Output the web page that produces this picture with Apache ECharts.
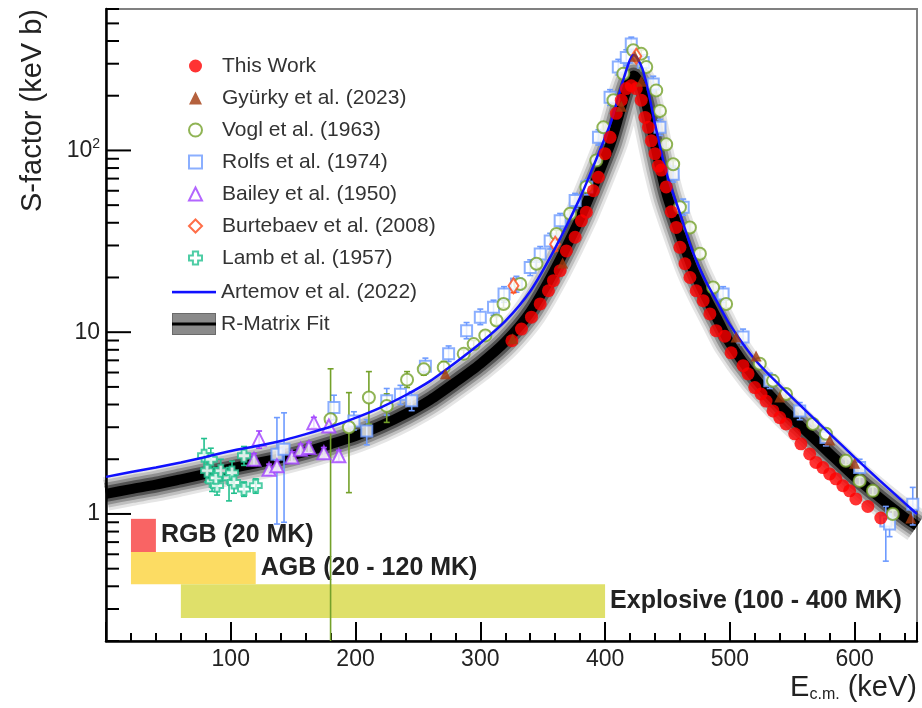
<!DOCTYPE html>
<html><head><meta charset="utf-8">
<script src="https://cdn.jsdelivr.net/npm/echarts@6/dist/echarts.min.js"></script>
<style>html,body{margin:0;padding:0;background:#fff}#c{width:922px;height:708px}</style>
</head><body><div id="c"></div>
<script>
// ---- Fit curves (energy grid, keV) ----
const E_FIT = [0,20,40,60,80,100,120,140,160,180,200,220,240,260,280,300,320,340,360,380,390,400,405,410,415,420,423,426,430,435,440,445,450,460,470,480,490,500,520,540,560,580,600,620,640,650];
const S_ARTEMOV = [1.60,1.70,1.80,1.92,2.06,2.22,2.36,2.52,2.75,3.02,3.38,3.85,4.5,5.4,6.8,8.7,11.5,16.8,29,55,80,118,145,190,250,315,335,320,280,205,140,98,72,45,28,19.5,14.6,11.0,7.08,5.1,3.75,2.77,2.05,1.53,1.15,1.0];
const S_RMATRIX = [1.29,1.37,1.45,1.55,1.66,1.78,1.9,2.03,2.2,2.42,2.68,3.05,3.55,4.25,5.3,6.7,8.85,12.9,22.3,42.4,61.6,90.9,112,146,193,243,258,246,216,158,108,75.5,55.4,34.7,22.5,16.0,11.8,8.7,5.6,3.95,2.9,2.15,1.6,1.23,0.96,0.86];

// ---- This work [E, S] ----
const THIS_WORK = [[325.3,8.97],[333,10.4],[341,12.1],[348,14.3],[354.6,16.9],[358.6,19.2],[364,21.8],[369,28.0],[376,33.3],[381,41],[385,45.7],[390.6,60],[394.6,71.2],[400,96],[404,118],[409,160],[413,189],[417,219],[421,227],[425,219],[429,189],[432,152],[434.7,134],[437,113],[440,96],[442.7,82],[445,78],[449,63],[453,46],[457,37.7],[460,29.3],[464,23.8],[468,20],[473,16.9],[478.6,14.9],[484,12.6],[489,10.2],[496,9.5],[501,7.7],[510.6,6.54],[514.6,5.9],[520,4.96],[525,4.57],[529,4.18],[534.6,3.69],[540,3.39],[545,3.13],[552,2.76],[557,2.43],[564,2.14],[569,1.92],[574.6,1.8],[580,1.66],[585,1.56],[590.6,1.43],[596,1.34],[601,1.21],[610.6,1.1],[621,0.95]];
// ---- Gyurky 2023 [E, S] ----
const GYURKY = [[272,5.9],[326,9.2],[366,24],[413,175],[424,330],[429,240],[505,9.4],[521,7.4],[540,4.4],[580,2.55],[600,1.9],[645,0.95]];
// ---- Vogl 1963 [E, S, low, high] ----
const VOGL = [[180,3.32,0.1,6.29],[194.7,3.0,1.31,4.65],[210.7,4.37,3.12,6.07],[225,3.93,3.19,4.58],[241.3,5.47,4.96,6.07],[254.7,6.26,5.8,6.8],[270.7,6.4,6.0,6.9],[286.7,7.6,7.2,8.0],[294.7,8.6,8.2,9.0],[304,9.6,9.1,10.1],[313,11.6,11.0,12.2],[318.6,14.3,13.6,15.0],[332,18.4,17.5,19.3],[345,23.8,22.6,25],[361,34.7,33,36.4],[372,44.8,42.6,47],[385,63,60,66],[393,88,84,92],[398.6,134,127,141],[406.7,189,180,198],[414.6,264,251,277],[422.6,356,338,374],[429,340,323,357],[433,288,274,302],[441,214,203,225],[444,165,157,173],[449,108,103,113],[454.6,84,80,88],[460,48.7,46.3,51.1],[468,37.7,35.8,39.6],[476,27,25.7,28.4],[486.6,17.6,16.7,18.5],[497,14.3,13.6,15],[524,6.7,6.4,7.0],[534.6,5.4,5.1,5.7],[545,4.57,4.34,4.8],[566.6,3.13,2.97,3.29],[577,2.76,2.62,2.9],[593,1.96,1.86,2.06],[604,1.52,1.44,1.6],[614.6,1.34,1.27,1.41],[630.6,1.0,0.95,1.05]];
// ---- Rolfs 1974 [E, S, low, high] ----
const ROLFS = [[137,2.13,0.88,3.39],[142.7,2.27,0.9,3.6],[182.7,3.85,3.3,4.5],[198.7,3.25,2.9,3.65],[209,2.86,2.4,3.3],[225,4.2,3.5,4.9],[236,4.56,4.0,5.1],[245,4.2,3.7,4.7],[256,6.5,5.9,7.2],[274.6,7.6,6.9,8.4],[289,10.2,9.2,11.3],[300,12.1,11,13.4],[310.6,13.7,12.4,15],[319,16.2,14.6,17.8],[329,18.4,16.6,20.3],[340,22.7,20.5,25],[348,26.9,24.3,29.6],[356,31.8,28.7,35],[364,41,37,45],[376,53,48,58],[385.4,63,57,69],[394.7,118,107,130],[404,196,177,216],[410.6,288,260,317],[417,325,293,358],[421,385,347,420],[430.6,305,275,336],[438.6,232,210,256],[444,134,121,148],[454.6,74,67,82],[462.6,48.7,44,54],[494.6,16.2,14.6,17.8],[510.6,9.4,8.5,10.4],[532,5.4,4.9,5.95],[556,3.69,3.3,4.1],[577,2.63,2.37,2.9],[604,1.8,1.6,2.0],[625,0.915,0.55,1.1],[628,0.88,0.75,1.0],[646.6,1.13,0.87,1.4]];
// ---- Bailey 1950 [E, S, low, high] ----
const BAILEY = [[118.6,2.0,1.85,2.15],[122.7,2.58,2.3,2.86],[130.7,1.76,1.64,1.88],[137,1.84,1.72,1.97],[149,2.06,1.93,2.2],[156,2.27,2.12,2.42],[162.6,2.32,2.17,2.48],[166.6,3.18,2.97,3.4],[174.6,2.17,2.03,2.32],[178.6,3.05,2.85,3.26],[186.6,2.09,1.95,2.24]];
// ---- Burtebaev 2008 [E, S, low, high] ----
const BURTEBAEV = [[326.6,18,16.5,19.6],[360,30.5,28,33],[425,330,310,350]];
// ---- Lamb 1957 [E, S, low, high] ----
const LAMB = [[78.6,2.09,1.73,2.6],[84,2.0,1.73,2.3],[81,1.73,1.5,1.95],[85,1.52,1.33,1.73],[89,1.43,1.27,1.73],[88,1.58,1.4,1.8],[92,1.73,1.52,2.0],[98.6,1.58,1.18,1.8],[101,1.69,1.5,1.95],[102.6,1.49,1.3,1.7],[110.6,2.09,1.85,2.35],[110.6,1.37,1.25,1.5],[120,1.43,1.3,1.56]];

// ---- Temperature regions ----
const REGION_NAMES = ['RGB (20 MK)','AGB (20 - 120 MK)','Explosive (100 - 400 MK)'];
const REGION_E_START = [20,20,60];
const REGION_E_END = [40,120,400];
const REGION_S_LOW = [0.617,0.41,0.268];
const REGION_S_HIGH = [0.94,0.617,0.41];
const REGION_COLORS = ['#f96464','#fcdc63','#dfe06a'];

// ---- Axis ticks ----
const Y_TICKS = [0.2,0.3,0.4,0.5,0.6,0.7,0.8,0.9,1,2,3,4,5,6,7,8,9,10,20,30,40,50,60,70,80,90,100,200,300,400,500,600];
const X_MIN = 0, X_MAX = 650, Y_MIN = 0.2, Y_MAX = 600;

const FONT = 'Liberation Sans, Arial, Helvetica, sans-serif';
const chart = echarts.init(document.getElementById('c'));

const fitPairs = (arr) => E_FIT.map((e,i)=>[e, arr[i]]);

function errSeries(name, data, color){
  return {
    type:'custom', name: name+'_err', data: data, z: 3, clip: true, silent: true,
    encode:{x:0,y:1},
    renderItem: function(params, api){
      const x = api.value(0);
      const lo = api.coord([x, api.value(2)]);
      const hi = api.coord([x, api.value(3)]);
      const c = 3;
      return {type:'group', children:[
        {type:'line', shape:{x1:lo[0],y1:lo[1],x2:hi[0],y2:hi[1]}, style:{stroke:color,lineWidth:1.6}},
        {type:'line', shape:{x1:hi[0]-c,y1:hi[1],x2:hi[0]+c,y2:hi[1]}, style:{stroke:color,lineWidth:1.6}},
        {type:'line', shape:{x1:lo[0]-c,y1:lo[1],x2:lo[0]+c,y2:lo[1]}, style:{stroke:color,lineWidth:1.6}}
      ]};
    }
  };
}
function scat(name, data, symbol, size, color, hollow, z){
  return {
    type:'scatter', name:name, data:data.map(d=>[d[0],d[1]]), symbol:symbol, symbolSize:size, z:z||4,
    itemStyle: hollow ? {color:color, borderColor:color, borderWidth:2} : {color:color}
  };
}

const bandLayers = [
  {w:34, c:'rgba(0,0,0,0.10)'},
  {w:28, c:'rgba(0,0,0,0.16)'},
  {w:22, c:'rgba(0,0,0,0.25)'},
  {w:16, c:'rgba(0,0,0,0.42)'},
  {w:10, c:'#000'}
];
const bandSeries = bandLayers.map((b,i)=>({
  type:'line', name: i===2 ? 'R-Matrix Fit' : 'band'+i, data: fitPairs(S_RMATRIX), showSymbol:false, symbol:'none', smooth:0.25,
  lineStyle:{width:b.w, color:b.c, cap:'butt', join:'round'}, itemStyle:{color:'#777'}, z:2, silent:true, clip:true
}));

const crossPath = 'path://M3,0 L7,0 L7,3 L10,3 L10,7 L7,7 L7,10 L3,10 L3,7 L0,7 L0,3 L3,3 Z';
const svgIcon = (body) => 'image://data:image/svg+xml;utf8,' + encodeURIComponent("<svg xmlns='http://www.w3.org/2000/svg' width='44' height='22'>" + body + "</svg>");
const bandIcon = svgIcon("<rect x='0.5' y='0.5' width='43' height='21' fill='#8a8a8a' stroke='#6a6a6a' stroke-width='1'/><rect y='9.5' width='44' height='3' fill='#000'/>");
const lineIcon = svgIcon("<rect y='9.8' width='44' height='2.6' fill='#1010ff'/>");

const regionData = REGION_NAMES.map((n,i)=>[
  {name:n, xAxis:REGION_E_START[i], yAxis:REGION_S_LOW[i], itemStyle:{color:REGION_COLORS[i]}},
  {xAxis:REGION_E_END[i], yAxis:REGION_S_HIGH[i]}
]);

const legendText = {fontSize:21, color:'#333', fontFamily:FONT, lineHeight:22};

const option = {
  animation:false,
  backgroundColor:'#fff',
  grid:{left:106, right:5, top:9, bottom:67, show:true, borderColor:'#808080', borderWidth:2, backgroundColor:'transparent'},
  xAxis:{
    type:'value', min:X_MIN, max:X_MAX, interval:100,
    axisLine:{lineStyle:{color:'#000', width:2.5}},
    axisTick:{inside:true, length:19, lineStyle:{color:'#000', width:2}},
    minorTick:{show:true, splitNumber:5, length:8, lineStyle:{color:'#000', width:2}},
    splitLine:{show:false}, minorSplitLine:{show:false},
    axisLabel:{fontSize:23, color:'#222', fontFamily:FONT, margin:7,
      formatter:(v)=> (v>0 && v%100===0) ? String(v) : ''}
  },
  yAxis:{
    type:'log', logBase:10, min:Y_MIN, max:Y_MAX,
    axisLine:{lineStyle:{color:'#000', width:2.5}},
    axisTick:{show:false}, splitLine:{show:false}, minorTick:{show:false},
    axisLabel:{fontSize:23, color:'#222', fontFamily:FONT, margin:6,
      formatter:(v)=>{
        const l = Math.log10(v); const r = Math.round(l);
        if (Math.abs(l-r)>1e-6) return '';
        if (r===0) return '{a|1}';
        if (r===1) return '{a|10}';
        if (r>=2) return '{a|10}{s|'+r+'}';
        return '';
      },
      rich:{a:{fontSize:23, fontFamily:FONT, color:'#222'}, s:{fontSize:14, fontFamily:FONT, color:'#222', padding:[0,0,12,0]}}
    }
  },
  legend:[
    {
      orient:'vertical', left:183, top:50, itemWidth:13, itemHeight:13, itemGap:10,
      textStyle:Object.assign({padding:[0,0,0,15]}, legendText),
      selectedMode:false,
      data:['This Work','Gyürky et al. (2023)','Vogl et al. (1963)','Rolfs et al. (1974)','Bailey et al. (1950)','Burtebaev et al. (2008)','Lamb et al. (1957)']
    },
    {
      orient:'vertical', left:167, top:276, itemWidth:44, itemHeight:22, itemGap:10,
      textStyle:Object.assign({padding:[0,0,0,0]}, legendText),
      selectedMode:false,
      data:[{name:'Artemov et al. (2022)', icon:lineIcon},{name:'R-Matrix Fit', icon:bandIcon}]
    }
  ],
  graphic:[
    {type:'text', x:33, y:9, rotation:Math.PI/2, style:{text:'S-factor (keV b)', fontSize:29, fontFamily:FONT, fill:'#222', align:'right', verticalAlign:'middle'}},
    {type:'text', x:917, y:688, style:{text:'{a|E}{b|c.m.}{a| (keV)}', align:'right', verticalAlign:'middle',
      rich:{a:{fontSize:29, fontFamily:FONT, fill:'#222'}, b:{fontSize:16, fontFamily:FONT, fill:'#222', padding:[13,0,0,0]}}}}
  ],
  series:[
    {type:'line', name:'regions', data:[], z:1, silent:true,
      markArea:{silent:true, data:regionData,
        label:{show:true, position:'right', distance:5, fontSize:25, fontWeight:'bold', color:'#222', fontFamily:FONT}}},
    ...bandSeries,
    errSeries('Rolfs', ROLFS, '#6e9bff'),
    errSeries('Vogl', VOGL, '#74a12a'),
    errSeries('Lamb', LAMB, '#22c08e'),
    errSeries('Bailey', BAILEY, '#a040ff'),
    errSeries('Burtebaev', BURTEBAEV, '#ff4a1a'),
    scat('Rolfs et al. (1974)', ROLFS, 'emptyRect', 11, '#6e9bff', true),
    scat('Vogl et al. (1963)', VOGL, 'emptyCircle', 12, '#74a12a', true),
    scat('Bailey et al. (1950)', BAILEY, 'emptyTriangle', 13, '#a040ff', true),
    scat('Burtebaev et al. (2008)', BURTEBAEV, 'emptyDiamond', [10,15], '#ff4a1a', true),
    {type:'scatter', name:'Lamb et al. (1957)', data:LAMB.map(d=>[d[0],d[1]]), symbol:crossPath, symbolSize:12, z:4,
      itemStyle:{color:'#ffffff', borderColor:'#22c08e', borderWidth:2}},
    {type:'line', name:'Artemov et al. (2022)', data:fitPairs(S_ARTEMOV), showSymbol:false, symbol:'none', smooth:0.25,
      lineStyle:{width:2.5, color:'#1010ff'}, itemStyle:{color:'#1010ff'}, z:5, silent:true},
    scat('This Work', THIS_WORK, 'circle', 13, '#ff0000', false, 6),
    scat('Gyürky et al. (2023)', GYURKY, 'triangle', 11, '#a23a0c', false, 7),
    {type:'custom', name:'yticks', data:Y_TICKS.map(v=>[X_MIN, v, Math.abs(Math.log10(v)-Math.round(Math.log10(v)))<1e-6 ? 1 : 0]),
      encode:{x:0,y:1}, z:10, silent:true, clip:false,
      renderItem:function(params, api){
        const p = api.coord([api.value(0), api.value(1)]);
        const len = api.value(2) ? 25 : 13;
        return {type:'line', shape:{x1:p[0], y1:p[1], x2:p[0]+len, y2:p[1]}, style:{stroke:'#000', lineWidth:2}};
      }}
  ]
};
chart.setOption(option);
</script></body></html>
